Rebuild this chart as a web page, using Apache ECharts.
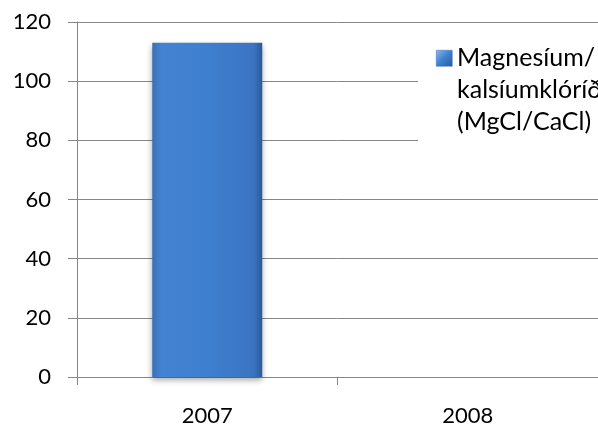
<!DOCTYPE html>
<html>
<head>
<meta charset="utf-8">
<script src="https://cdn.jsdelivr.net/npm/echarts@6/dist/echarts.min.js"></script>
<style>
html,body{margin:0;padding:0;background:#fff;}
#c{width:598px;height:429px;}
</style>
</head>
<body>
<div id="c"></div>
<script>
const categories = ['2007', '2008'];
const seriesName = 'Magnesíum/\nkalsíumklóríð\n(MgCl/CaCl)';
const values = [113, null];
const yTicks = { min: 0, max: 120, interval: 20 };

const chart = echarts.init(document.getElementById('c'), null, { renderer: 'canvas' });
const font = 'Lato, "Open Sans", sans-serif';
const iconFill = new echarts.graphic.LinearGradient(0, 0, 1, 1, [
  { offset: 0, color: '#8ab8ee' }, { offset: 0.5, color: '#3f7fcf' }, { offset: 1, color: '#2a5a9c' }
]);
chart.setOption({
  animation: false,
  backgroundColor: '#fff',
  grid: { left: 77, top: 22, width: 530, bottom: 52, containLabel: false },
  legend: { show: false },
  xAxis: {
    type: 'category',
    data: categories,
    boundaryGap: true,
    axisLine: { lineStyle: { color: '#868686', width: 1 } },
    axisTick: { show: true, length: 8, lineStyle: { color: '#868686' } },
    axisLabel: { fontFamily: font, fontSize: 22, color: '#000', margin: 28 },
    splitLine: { show: false }
  },
  yAxis: {
    type: 'value',
    min: yTicks.min, max: yTicks.max, interval: yTicks.interval,
    axisLine: { show: true, lineStyle: { color: '#868686', width: 1 } },
    axisTick: { show: true, length: 9, lineStyle: { color: '#868686' } },
    axisLabel: { fontFamily: font, fontSize: 22, color: '#000', margin: 26 },
    splitLine: { show: true, lineStyle: { color: '#868686', width: 1 } }
  },
  graphic: [
    { type: 'rect', left: 418, top: 26, shape: { width: 190, height: 122 }, style: { fill: '#fff' }, z: 10 },
    { type: 'rect', left: 436, top: 50, shape: { width: 16, height: 16 }, style: { fill: iconFill, stroke: '#3a6fb5', lineWidth: 0.5 }, z: 11 },
    { type: 'text', left: 457, top: 42, z: 11,
      style: { text: seriesName, font: '25px ' + font, fill: '#000', lineHeight: 32 } }
  ],
  series: [{
    name: seriesName,
    type: 'bar',
    data: values,
    barWidth: 110,
    itemStyle: {
      color: new echarts.graphic.LinearGradient(0, 0, 1, 0, [
        { offset: 0, color: '#3a70b8' },
        { offset: 0.08, color: '#4383d2' },
        { offset: 0.5, color: '#3f7fcf' },
        { offset: 0.92, color: '#3b75c2' },
        { offset: 1, color: '#2b5a98' }
      ]),
      shadowColor: 'rgba(0,0,0,0.35)',
      shadowBlur: 6,
      shadowOffsetY: 3
    }
  }]
});
</script>
</body>
</html>
